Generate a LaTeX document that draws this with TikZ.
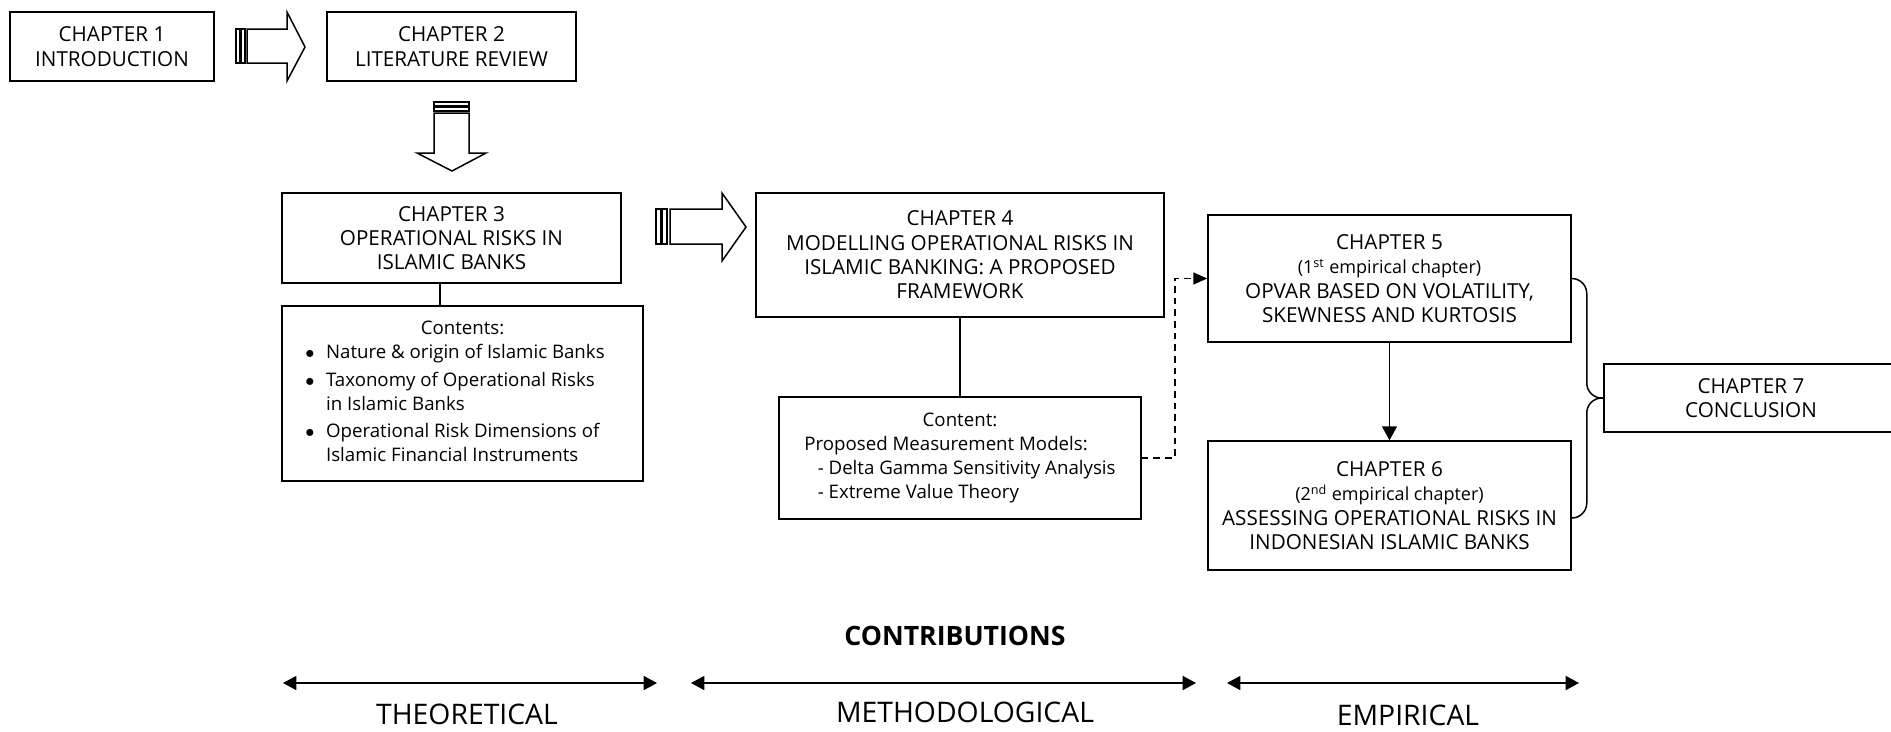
\documentclass[tikz,border=0pt]{standalone}
\usepackage{fontspec}
\setmainfont{Open Sans}
\usetikzlibrary{arrows.meta}

\tikzset{
  chapbox/.style={draw, line width=0.9pt, align=center, inner sep=2pt,
    font=\fontsize{12.4}{14.6}\selectfont},
  contbox/.style={draw, line width=0.9pt, inner sep=2pt,
    font=\fontsize{11.2}{14.4}\selectfont},
  blockarrow/.style={draw, line width=0.9pt, fill=white},
  contrib/.style={font=\fontsize{17}{20}\selectfont, inner sep=0pt},
  tip/.style={-{Triangle[length=8.4pt,width=7.2pt]}},
  downtip/.style={-{Triangle[length=8.4pt,width=9pt]}},
  twotip/.style={{Triangle[length=8pt,width=8.4pt]}-{Triangle[length=8pt,width=8.4pt]}},
}
\newcommand{\lc}{\fontsize{10.8}{14.6}\selectfont}

\begin{document}
\begin{tikzpicture}[x=0.6pt, y=-0.6pt]
  \useasboundingbox (0,0) rectangle (1891,731);

  %% chapters 1 and 2
  \node[chapbox, minimum width=122.4pt, minimum height=41.4pt] (ch1) at (112,46.5) {CHAPTER 1\\INTRODUCTION};
  \node[chapbox, minimum width=149.4pt, minimum height=41.4pt] (ch2) at (451.5,46.5) {CHAPTER 2\\LITERATURE REVIEW};

  %% chapter 3
  \node[chapbox, minimum width=203.4pt, minimum height=54pt] (ch3) at (451.5,238) {CHAPTER 3\\OPERATIONAL RISKS IN\\ISLAMIC BANKS};
  \node[contbox, minimum width=216.6pt, minimum height=105pt] (cont3) at (462.5,393.5) {%
    \begin{tabular}{@{}l@{\hspace{7pt}}l@{\hspace{9pt}}}
      \multicolumn{2}{@{}c@{}}{Contents:}\\
      $\bullet$ & Nature \& origin of Islamic Banks\\[2pt]
      $\bullet$ & Taxonomy of Operational Risks\\
                & in Islamic Banks\\[2pt]
      $\bullet$ & Operational Risk Dimensions of\\
                & Islamic Financial Instruments
    \end{tabular}};

  %% chapter 4
  \node[chapbox, minimum width=244.8pt, minimum height=74.4pt] (ch4) at (960,255) {CHAPTER 4\\MODELLING OPERATIONAL RISKS IN\\ISLAMIC BANKING: A PROPOSED\\FRAMEWORK};
  \node[contbox, minimum width=217.2pt, minimum height=73.2pt] (cont4) at (960,458) {%
    \begin{tabular}{@{}l@{}}
      \multicolumn{1}{c}{Content:}\\
      Proposed Measurement Models:\\
      \hspace*{8pt}- Delta Gamma Sensitivity Analysis\\
      \hspace*{8pt}- Extreme Value Theory
    \end{tabular}};

  %% chapters 5, 6 and 7
  \node[chapbox, minimum width=217.8pt, minimum height=76.2pt] (ch5) at (1389.5,278.5) {CHAPTER 5\\{\lc (1\textsuperscript{st} empirical chapter)}\\OPVAR BASED ON VOLATILITY,\\SKEWNESS AND KURTOSIS};
  \node[chapbox, minimum width=217.8pt, minimum height=77.4pt] (ch6) at (1389.5,505.5) {CHAPTER 6\\{\lc (2\textsuperscript{nd} empirical chapter)}\\ASSESSING OPERATIONAL RISKS IN\\INDONESIAN ISLAMIC BANKS};
  \node[chapbox, minimum width=176.4pt, minimum height=40.8pt] (ch7) at (1751,398) {CHAPTER 7\\CONCLUSION};

  %% block arrows
  \draw[blockarrow] (236,29) rectangle (240,63);
  \draw[blockarrow] (241,29) rectangle (245,63);
  \draw[blockarrow] (247,29) -- (287,29) -- (287,12) -- (305,47) -- (287,81) -- (287,63) -- (247,63) -- cycle;

  \draw[blockarrow] (434,102) rectangle (469,106);
  \draw[blockarrow] (434,107) rectangle (469,111);
  \draw[blockarrow] (434,113) -- (434,153) -- (417,153) -- (452,171) -- (486,153) -- (469,153) -- (469,113) -- cycle;

  \draw[blockarrow] (656,209) rectangle (661,244);
  \draw[blockarrow] (662,209) rectangle (667,244);
  \draw[blockarrow] (670,209) -- (722,209) -- (722,193) -- (746,227) -- (722,261) -- (722,244) -- (670,244) -- cycle;

  %% links
  \draw[line width=0.9pt] ([xshift=-6.9pt]ch3.south) -- ([xshift=-6.9pt]ch3.south |- cont3.north);
  \draw[line width=0.9pt] (ch4) -- (cont4);
  \draw[line width=0.9pt, dash pattern=on 4pt off 3pt, tip] (cont4.east) -- ++(33,0) |- (ch5.west);
  \draw[line width=0.9pt, downtip] (ch5) -- (ch6);

  %% brace
  \draw[line width=0.9pt, rounded corners=9pt] (ch5.east) -- ++(15,0) |- (ch7.west);
  \draw[line width=0.9pt, rounded corners=9pt] ([yshift=-7.5pt]ch6.east) -- ++(15,0) |- (ch7.west);

  %% contributions
  \node[font=\fontsize{16}{19}\selectfont\bfseries] (contr) at (955,636) {CONTRIBUTIONS};

  \coordinate (th1) at (283,683);
  \coordinate (th2) at (657,683);
  \coordinate (me1) at (691,683);
  \coordinate (me2) at (1196,683);
  \coordinate (em1) at (1227,683);
  \coordinate (em2) at (1579,683);
  \draw[line width=1pt, twotip] (th1) -- (th2);
  \draw[line width=1pt, twotip] (me1) -- (me2);
  \draw[line width=1pt, twotip] (em1) -- (em2);

  \node[contrib] (theo) at (467,714) {THEORETICAL};
  \node[contrib] (meth) at (965,712) {METHODOLOGICAL};
  \node[contrib] (emp) at (1408,715) {EMPIRICAL};

\end{tikzpicture}
\end{document}
